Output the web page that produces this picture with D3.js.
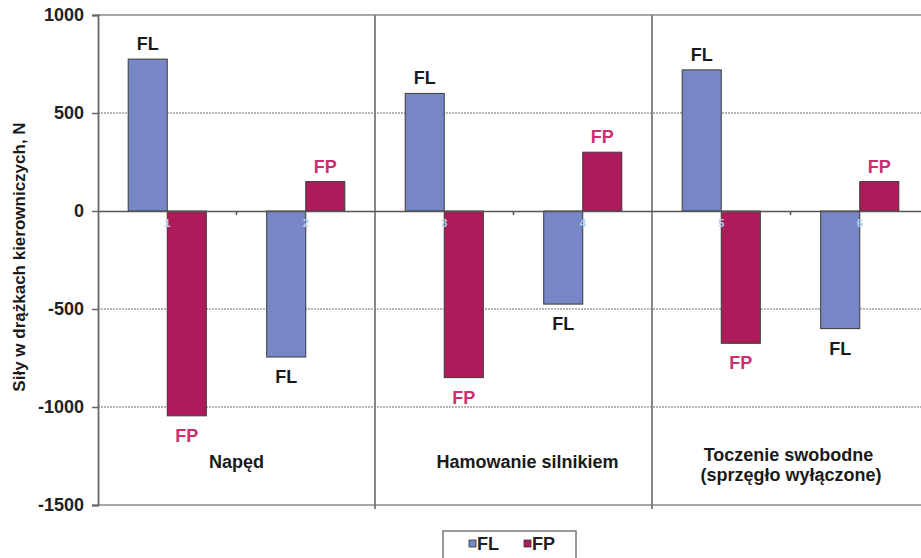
<!DOCTYPE html>
<html>
<head>
<meta charset="utf-8">
<script src="https://cdn.jsdelivr.net/npm/d3@7/dist/d3.min.js"></script>
<style>
  html, body { margin: 0; padding: 0; background: #fff; }
  svg { display: block; }
  text { font-family: "Liberation Sans", Arial, sans-serif; font-weight: bold; }
</style>
</head>
<body>
<svg id="chart" width="921" height="558"></svg>
<script>
// Forces in the steering tie rods for the three driving modes
const categories = ["1", "2", "3", "4", "5", "6"];
const seriesNames = ["FL", "FP"];
const flValues = [775, -745, 600, -475, 720, -600];
const fpValues = [-1045, 150, -850, 300, -675, 150];
const yTicks = [-1500, -1000, -500, 0, 500, 1000];
const groupNames = [["Napęd"], ["Hamowanie silnikiem"], ["Toczenie swobodne", " (sprzęgło wyłączone)"]];
const groupStarts = [0, 2, 4];
const yTitle = "Siły w drążkach kierowniczych, N";

const colors = { FL: "#7787c6", FP: "#ae1b5b" };
const labelColors = { FL: "#1a1a1a", FP: "#c8306f" };

const svg = d3.select("#chart");
const plot = { left: 98, right: 929, top: 15, bottom: 505 };

const x = d3.scaleBand().domain(categories).range([plot.left, plot.right]).padding(0);
const sub = d3.scaleBand().domain(seriesNames)
  .range([x.bandwidth() * 0.218, x.bandwidth() * 0.782]).padding(0);
const y = d3.scaleLinear().domain([-1500, 1000]).range([plot.bottom, plot.top]);

const rows = categories.map((c, i) => ({ cat: c, FL: flValues[i], FP: fpValues[i] }));

// horizontal grid: dotted inner lines, solid frame lines
svg.append("g").selectAll("line")
  .data(yTicks.filter(v => v !== 0))
  .join("line")
  .attr("x1", plot.left).attr("x2", plot.right)
  .attr("y1", d => y(d)).attr("y2", d => y(d))
  .attr("stroke", d => (d === 1000 || d === -1500) ? "#8a8a8a" : "#6d6d6d")
  .attr("stroke-width", d => (d === 1000 || d === -1500) ? 1.5 : 1.2)
  .attr("stroke-dasharray", d => (d === 1000 || d === -1500) ? null : "2,1");

// vertical separators between driving modes
svg.append("g").selectAll("line")
  .data(groupStarts.slice(1))
  .join("line")
  .attr("x1", d => x(categories[d])).attr("x2", d => x(categories[d]))
  .attr("y1", plot.top).attr("y2", plot.bottom + 4)
  .attr("stroke", "#7a7a7a").attr("stroke-width", 1.8);

// bars
const barG = svg.append("g");
rows.forEach(r => {
  seriesNames.forEach(s => {
    const v = r[s];
    barG.append("rect")
      .attr("x", x(r.cat) + sub(s))
      .attr("width", sub.bandwidth())
      .attr("y", y(Math.max(0, v)))
      .attr("height", Math.abs(y(v) - y(0)))
      .attr("fill", colors[s])
      .attr("stroke", "#3a3a3a")
      .attr("stroke-width", 1);
  });
});

// zero line with category axis
const xAxis = svg.append("g")
  .attr("transform", `translate(0,${y(0)})`)
  .call(d3.axisBottom(x).tickSize(0).tickPadding(8));
xAxis.select(".domain").attr("stroke", "#555").attr("stroke-width", 1.5);
xAxis.selectAll(".tick text")
  .attr("fill", "#b3cff0").attr("font-size", 11).attr("font-weight", "normal")
  .attr("font-family", "'Liberation Sans', Arial, sans-serif");
// boundary ticks on the zero line
svg.append("g").selectAll("line")
  .data(categories.slice(1).filter((c, i) => !groupStarts.includes(i + 1)))
  .join("line")
  .attr("x1", d => x(d)).attr("x2", d => x(d))
  .attr("y1", y(0)).attr("y2", y(0) + 4)
  .attr("stroke", "#555").attr("stroke-width", 1.5);

// value axis
const yAxis = svg.append("g")
  .attr("transform", `translate(${plot.left},0)`)
  .call(d3.axisLeft(y).tickValues(yTicks).tickSize(6).tickPadding(8).tickFormat(d => String(d)));
yAxis.select(".domain").attr("stroke", "#666").attr("stroke-width", 1.8);
yAxis.selectAll(".tick line").attr("stroke", "#666").attr("stroke-width", 1.5);
yAxis.selectAll(".tick text")
  .attr("fill", "#222").attr("font-size", 18)
  .attr("font-family", "'Liberation Sans', Arial, sans-serif").attr("font-weight", "bold");

// series name on each bar
const lblG = svg.append("g");
rows.forEach(r => {
  seriesNames.forEach(s => {
    const v = r[s];
    lblG.append("text")
      .attr("x", x(r.cat) + sub(s) + sub.bandwidth() / 2)
      .attr("y", v >= 0 ? y(v) - 9 : y(v) + 26)
      .attr("text-anchor", "middle")
      .attr("font-size", 18)
      .attr("fill", labelColors[s])
      .text(s);
  });
});

// driving mode names, placed under each pair of categories
const groupShift = [0, 14, -2];
const gG = svg.append("g");
groupNames.forEach((lines, gi) => {
  const cx = x(categories[groupStarts[gi] + 1]) + groupShift[gi];
  const base = lines.length === 1 ? 468 : 461;
  lines.forEach((t, li) => {
    gG.append("text")
      .attr("x", cx)
      .attr("y", base + li * 20)
      .attr("text-anchor", "middle")
      .attr("font-size", 18)
      .attr("fill", "#1a1a1a")
      .attr("xml:space", "preserve")
      .text(t);
  });
});

// axis title
svg.append("text")
  .attr("transform", `translate(25,${(plot.top + plot.bottom) / 2 - 3}) rotate(-90)`)
  .attr("text-anchor", "middle")
  .attr("font-size", 17)
  .attr("fill", "#1a1a1a")
  .text(yTitle);

// legend
const leg = svg.append("g").attr("transform", "translate(443,531)");
leg.append("rect").attr("width", 133).attr("height", 32)
  .attr("fill", "#fff").attr("stroke", "#777").attr("stroke-width", 1.5);
seriesNames.forEach((s, i) => {
  const gx = 26 + i * 55;
  leg.append("rect").attr("x", gx).attr("y", 9).attr("width", 7).attr("height", 7)
    .attr("fill", colors[s]).attr("stroke", "#333").attr("stroke-width", 0.8);
  leg.append("text").attr("x", gx + 8).attr("y", 19)
    .attr("font-size", 18).attr("fill", "#222").text(s);
});
</script>
</body>
</html>
